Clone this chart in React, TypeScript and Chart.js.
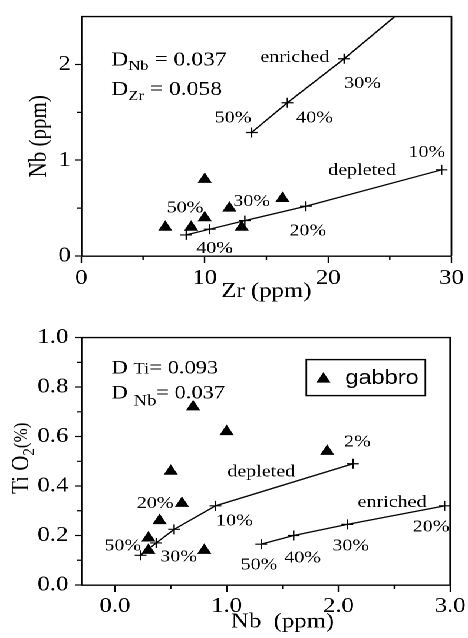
import React, { useEffect, useRef } from 'react';
import { Chart, registerables } from 'chart.js';

Chart.register(...registerables);

const SERIF = "'Liberation Serif', 'Times New Roman', Times, serif";
const SANS = "'Liberation Sans', Arial, Helvetica, sans-serif";
const INK = '#000';

Chart.defaults.font.family = SERIF;
Chart.defaults.color = INK;

// The figure is laid out on a slightly narrower canvas and widened on the page.
const PAGE_W = 468;
const STRETCH = 1.18;
const FIG_W = Math.round(PAGE_W / STRETCH);
const PANEL_H = 319;

// ---------- Zr vs Nb ----------
const ZR_TICKS = [0, 10, 20, 30];
const ZR_MINOR = [5, 15, 25];
const NB_TICKS = [0, 1, 2];
const NB_MINOR = [0.5, 1.5];

const GABBRO_ZR = [6.8, 8.9, 10.0, 10.0, 12.0, 13.0, 16.3];
const GABBRO_NB = [0.3, 0.3, 0.8, 0.4, 0.5, 0.3, 0.6];

const DEPLETED_ZR = [8.5, 10.4, 13.25, 18.2, 29.2];
const DEPLETED_NB = [0.22, 0.28, 0.37, 0.52, 0.9];
const ENRICHED_ZR = [13.8, 16.7, 21.3, 25.4];
const ENRICHED_NB = [1.29, 1.6, 2.06, 2.5];
const ENRICHED_A_MARKED = [true, true, true, false];

type Note = { text: string; x: number; y: number };
type Part = [string, number, number]; // text, font size, baseline shift
type Coef = { x: number; y: number; parts: Part[] };

const NOTES_ZR_NB: Note[] = [
  { text: '50%', x: 8.4, y: 0.5 },
  { text: '40%', x: 10.8, y: 0.08 },
  { text: '30%', x: 13.8, y: 0.57 },
  { text: '20%', x: 18.35, y: 0.26 },
  { text: '10%', x: 28.0, y: 1.08 },
  { text: 'depleted', x: 22.75, y: 0.89 },
  { text: 'enriched', x: 17.3, y: 2.07 },
  { text: '50%', x: 12.3, y: 1.44 },
  { text: '40%', x: 18.9, y: 1.44 },
  { text: '30%', x: 22.8, y: 1.8 },
];

const COEF_ZR_NB: Coef[] = [
  { x: 2.43, y: 1.99, parts: [['D', 20, 0], ['Nb', 14, 4.5], [' = 0.037', 20, 0]] },
  { x: 2.43, y: 1.68, parts: [['D', 20, 0], ['Zr', 14, 5], [' = 0.058', 20, 0]] },
];

// ---------- Nb vs TiO2 ----------
const NB_B_TICKS = [0, 1, 2, 3];
const NB_B_MINOR = [0.5, 1.5, 2.5];
const TI_TICKS = [0, 0.2, 0.4, 0.6, 0.8, 1.0];
const TI_MINOR = [0.1, 0.3, 0.5, 0.7, 0.9];

const GABBRO_NB_B = [0.7, 1.0, 1.9, 0.5, 0.6, 0.4, 0.3, 0.3, 0.8];
const GABBRO_TIO2 = [0.72, 0.62, 0.54, 0.46, 0.33, 0.26, 0.19, 0.14, 0.14];

const DEPLETED_NB_B = [0.23, 0.37, 0.53, 0.9, 2.13];
const DEPLETED_TIO2 = [0.12, 0.17, 0.225, 0.32, 0.49];
const ENRICHED_NB_B = [1.31, 1.6, 2.08, 2.95];
const ENRICHED_TIO2 = [0.165, 0.2, 0.245, 0.32];

const NOTES_NB_TI: Note[] = [
  { text: '2%', x: 2.17, y: 0.578 },
  { text: 'depleted', x: 1.31, y: 0.457 },
  { text: '20%', x: 0.36, y: 0.33 },
  { text: '10%', x: 1.07, y: 0.258 },
  { text: '50%', x: 0.07, y: 0.157 },
  { text: '30%', x: 0.57, y: 0.113 },
  { text: 'enriched', x: 2.48, y: 0.333 },
  { text: '20%', x: 2.83, y: 0.234 },
  { text: '30%', x: 2.11, y: 0.157 },
  { text: '40%', x: 1.68, y: 0.109 },
  { text: '50%', x: 1.29, y: 0.081 },
];

const COEF_NB_TI: Coef[] = [
  { x: -0.03, y: 0.855, parts: [['D', 19, 0], [' ', 19, 0], ['Ti', 16, 0], ['= 0.093', 19, 0]] },
  { x: -0.03, y: 0.754, parts: [['D', 19, 0], [' ', 19, 0], ['Nb', 16, 7], ['= 0.037', 19, 0]] },
];

const TIO2_TITLE: Part[] = [['Ti O', 21, 0], ['2', 15, 5], ['(%)', 17, -1]];
const NB_B_TITLE = 'Nb  (ppm)';
const LEGEND_LABEL = 'gabbro';

// ---------- drawing helpers ----------
const pts = (xs: number[], ys: number[]) => xs.map((x, i) => ({ x, y: ys[i] }));

function drawParts(ctx: CanvasRenderingContext2D, x0: number, y0: number, parts: Part[]) {
  let x = x0;
  for (const [t, size, dy] of parts) {
    ctx.font = `${size}px ${SERIF}`;
    ctx.fillText(t, x, y0 + dy);
    x += ctx.measureText(t).width;
  }
}

function partsWidth(ctx: CanvasRenderingContext2D, parts: Part[]) {
  let w = 0;
  for (const [t, size] of parts) {
    ctx.font = `${size}px ${SERIF}`;
    w += ctx.measureText(t).width;
  }
  return w;
}

function triangle(ctx: CanvasRenderingContext2D, x: number, y: number, r: number) {
  ctx.beginPath();
  ctx.moveTo(x, y - r);
  ctx.lineTo(x + r * Math.sin(Math.PI / 3), y + r / 2);
  ctx.lineTo(x - r * Math.sin(Math.PI / 3), y + r / 2);
  ctx.closePath();
  ctx.fill();
}

type DecorSpec = {
  xMinor: number[];
  yMinor: number[];
  notes: Note[];
  coefs: Coef[];
  legend?: boolean;
  yTitle?: Part[];
  xTitle?: { text: string; at: number };
};

function decor(spec: DecorSpec) {
  return {
    id: 'decor',
    afterDraw(chart: Chart) {
      const { ctx, chartArea: a } = chart;
      const x = chart.scales.x;
      const y = chart.scales.y;
      ctx.save();
      ctx.strokeStyle = INK;
      ctx.fillStyle = INK;

      // close the frame
      ctx.lineWidth = 1.4;
      ctx.beginPath();
      ctx.moveTo(a.left, a.top);
      ctx.lineTo(a.right, a.top);
      ctx.lineTo(a.right, a.bottom);
      ctx.stroke();

      // minor ticks
      ctx.lineWidth = 1.2;
      ctx.beginPath();
      for (const v of spec.xMinor) {
        const px = x.getPixelForValue(v);
        ctx.moveTo(px, a.bottom);
        ctx.lineTo(px, a.bottom + 4);
      }
      for (const v of spec.yMinor) {
        const py = y.getPixelForValue(v);
        ctx.moveTo(a.left, py);
        ctx.lineTo(a.left - 3.5, py);
      }
      ctx.stroke();

      // curve labels
      ctx.font = `17px ${SERIF}`;
      ctx.textAlign = 'center';
      ctx.textBaseline = 'middle';
      for (const n of spec.notes) {
        ctx.fillText(n.text, x.getPixelForValue(n.x), y.getPixelForValue(n.y));
      }

      // partition coefficients
      ctx.textAlign = 'left';
      ctx.textBaseline = 'alphabetic';
      for (const c of spec.coefs) {
        drawParts(ctx, x.getPixelForValue(c.x), y.getPixelForValue(c.y), c.parts);
      }

      if (spec.legend) {
        const w = 101;
        const h = 36;
        const left = a.right - 21 - w;
        const top = a.top + 22;
        ctx.lineWidth = 1.4;
        ctx.strokeRect(left, top, w, h);
        triangle(ctx, left + 14.5, top + h / 2 + 1.5, 7);
        ctx.font = `20px ${SANS}`;
        ctx.textBaseline = 'middle';
        ctx.fillText(LEGEND_LABEL, left + 33, top + h / 2 + 1);
      }

      if (spec.xTitle) {
        ctx.font = `21px ${SERIF}`;
        ctx.textAlign = 'center';
        ctx.textBaseline = 'middle';
        ctx.fillText(spec.xTitle.text, x.getPixelForValue(spec.xTitle.at), chart.height - 16);
      }

      if (spec.yTitle) {
        const w = partsWidth(ctx, spec.yTitle);
        ctx.save();
        ctx.translate(24, (a.top + a.bottom) / 2 - 3);
        ctx.rotate(-Math.PI / 2);
        ctx.textAlign = 'left';
        ctx.textBaseline = 'alphabetic';
        drawParts(ctx, -w / 2, 0, spec.yTitle);
        ctx.restore();
      }
      ctx.restore();
    },
  };
}

function axisX(min: number, max: number, ticks: number[], fmt: (v: number) => string, height: number, padding: number, title?: { text: string; bottom: number }) {
  return {
    type: 'linear' as const,
    min,
    max,
    afterBuildTicks: (s: any) => {
      s.ticks = ticks.map((v) => ({ value: v }));
    },
    afterFit: (s: any) => {
      s.height = height;
    },
    ticks: { autoSkip: false, maxRotation: 0, padding, font: { size: 21 }, color: INK, callback: (v: any) => fmt(Number(v)) },
    grid: { drawOnChartArea: false, drawTicks: true, tickLength: 7, tickColor: INK, tickWidth: 1.2 },
    border: { display: true, color: INK, width: 1.4 },
    title: title
      ? { display: true, text: title.text, font: { size: 21 }, color: INK, padding: { top: 0, bottom: title.bottom } }
      : { display: false },
  };
}

function axisY(min: number, max: number, ticks: number[], fmt: (v: number) => string, width: number, padding: number, title?: { text: string; top: number }) {
  return {
    type: 'linear' as const,
    min,
    max,
    afterBuildTicks: (s: any) => {
      s.ticks = ticks.map((v) => ({ value: v }));
    },
    afterFit: (s: any) => {
      s.width = width;
    },
    ticks: { autoSkip: false, padding, font: { size: 21 }, color: INK, callback: (v: any) => fmt(Number(v)) },
    grid: { drawOnChartArea: false, drawTicks: true, tickLength: 5, tickColor: INK, tickWidth: 1.2 },
    border: { display: true, color: INK, width: 1.4 },
    title: title
      ? { display: true, text: title.text, font: { size: 21 }, color: INK, padding: { top: title.top, bottom: 0 } }
      : { display: false },
  };
}

const gabbroSet = (xs: number[], ys: number[]) => ({
  label: LEGEND_LABEL,
  data: pts(xs, ys),
  showLine: false,
  pointStyle: 'triangle' as const,
  pointRadius: 7,
  pointBackgroundColor: INK,
  pointBorderColor: INK,
  pointBorderWidth: 0,
});

const meltSet = (label: string, xs: number[], ys: number[], marked?: boolean[]) => ({
  label,
  data: pts(xs, ys),
  showLine: true,
  borderColor: INK,
  borderWidth: 1.3,
  tension: 0,
  fill: false,
  pointStyle: 'cross' as const,
  pointRadius: marked ? marked.map((m) => (m ? 5 : 0)) : 5,
  pointBorderColor: INK,
  pointBorderWidth: 1.2,
});

const baseOptions = {
  responsive: true,
  maintainAspectRatio: false,
  animation: false as const,
  devicePixelRatio: 2,
  events: [] as any[],
  plugins: { legend: { display: false }, tooltip: { enabled: false } },
};

function zrNbConfig(): any {
  return {
    type: 'scatter',
    data: {
      datasets: [
        gabbroSet(GABBRO_ZR, GABBRO_NB),
        meltSet('depleted', DEPLETED_ZR, DEPLETED_NB),
        meltSet('enriched', ENRICHED_ZR, ENRICHED_NB, ENRICHED_A_MARKED),
      ],
    },
    options: {
      ...baseOptions,
      layout: { padding: { top: 8, right: FIG_W - 383, left: 0, bottom: 0 } },
      scales: {
        x: axisX(0, 30, ZR_TICKS, (v) => String(v), 63, 3, { text: 'Zr (ppm)', bottom: 15 }),
        y: axisY(0, 2.5, NB_TICKS, (v) => String(v), 69, 4, { text: 'Nb (ppm)', top: 21 }),
      },
    },
    plugins: [decor({ xMinor: ZR_MINOR, yMinor: NB_MINOR, notes: NOTES_ZR_NB, coefs: COEF_ZR_NB })],
  };
}

function nbTiConfig(): any {
  return {
    type: 'scatter',
    data: {
      datasets: [
        gabbroSet(GABBRO_NB_B, GABBRO_TIO2),
        meltSet('depleted', DEPLETED_NB_B, DEPLETED_TIO2),
        meltSet('enriched', ENRICHED_NB_B, ENRICHED_TIO2),
      ],
    },
    options: {
      ...baseOptions,
      layout: { padding: { top: 18, right: FIG_W - 383, left: 0, bottom: 0 } },
      scales: {
        x: axisX(-0.3, 3.0, NB_B_TICKS, (v) => v.toFixed(1), 53, 2),
        y: axisY(0, 1.0, TI_TICKS, (v) => v.toFixed(1), 69, 6),
      },
    },
    plugins: [
      decor({
        xMinor: NB_B_MINOR,
        yMinor: TI_MINOR,
        notes: NOTES_NB_TI,
        coefs: COEF_NB_TI,
        legend: true,
        yTitle: TIO2_TITLE,
        xTitle: { text: NB_B_TITLE, at: 1.5 },
      }),
    ],
  };
}

function Panel({ config }: { config: () => any }) {
  const ref = useRef<HTMLCanvasElement>(null);
  useEffect(() => {
    const chart = new Chart(ref.current as HTMLCanvasElement, config());
    return () => chart.destroy();
  }, [config]);
  return (
    <div style={{ position: 'relative', width: FIG_W, height: PANEL_H }}>
      <canvas ref={ref} />
    </div>
  );
}

export default function App() {
  useEffect(() => {
    document.body.style.overflow = 'hidden';
  }, []);
  return (
    <div
      style={{
        position: 'absolute',
        left: 0,
        top: 0,
        width: FIG_W,
        height: PANEL_H * 2,
        background: '#fff',
        transform: `scaleX(${PAGE_W / FIG_W})`,
        transformOrigin: '0 0',
      }}
    >
      <Panel config={zrNbConfig} />
      <Panel config={nbTiConfig} />
    </div>
  );
}
